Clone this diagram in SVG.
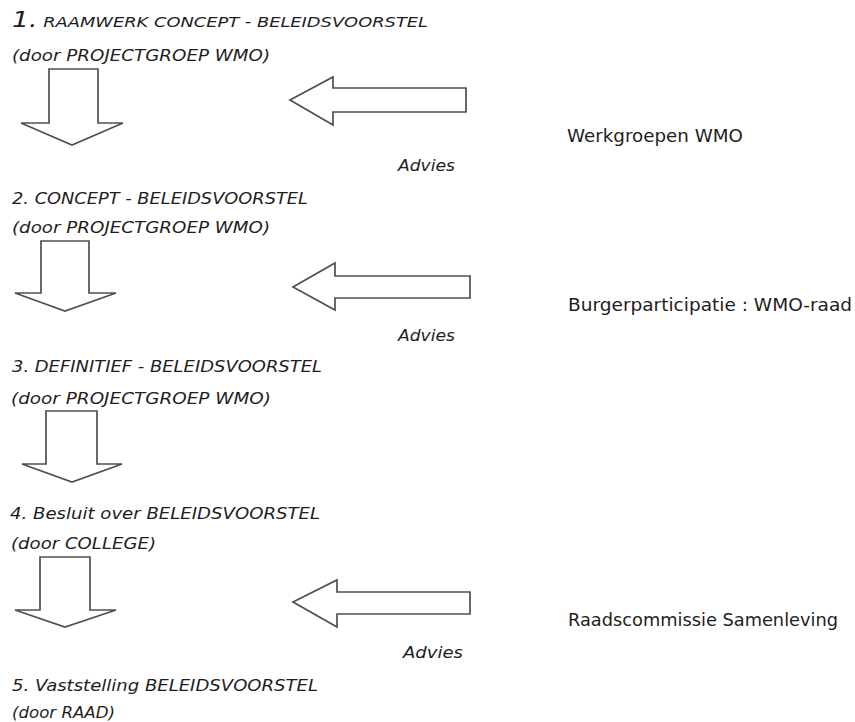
<svg xmlns="http://www.w3.org/2000/svg" width="855" height="722" viewBox="0 0 855 722">
<style>
.bg{fill:#ffffff}
.t{font-family:"DejaVu Sans","Liberation Sans",sans-serif;font-style:italic;font-size:16px;fill:#1e1e1e}
.r{font-family:"DejaVu Sans","Liberation Sans",sans-serif;font-size:17px;fill:#1e1e1e}
.arr{fill:#ffffff;stroke:#505050;stroke-width:1.7;stroke-linejoin:miter}
</style>
<rect class="bg" x="0" y="0" width="855" height="722"/>
<g id="step1">
<text class="t" x="12" y="27" textLength="416" lengthAdjust="spacingAndGlyphs"><tspan font-size="21">1.</tspan><tspan font-size="14"> RAAMWERK CONCEPT - BELEIDSVOORSTEL</tspan></text>
<text class="t" x="12" y="61" textLength="258" lengthAdjust="spacingAndGlyphs">(door PROJECTGROEP WMO)</text>
</g>
<g id="step2">
<text class="t" x="12" y="204" textLength="296" lengthAdjust="spacingAndGlyphs">2. CONCEPT - BELEIDSVOORSTEL</text>
<text class="t" x="12" y="233" textLength="258" lengthAdjust="spacingAndGlyphs">(door PROJECTGROEP WMO)</text>
</g>
<g id="step3">
<text class="t" x="12" y="372" textLength="310" lengthAdjust="spacingAndGlyphs">3. DEFINITIEF - BELEIDSVOORSTEL</text>
<text class="t" x="11" y="404" textLength="260" lengthAdjust="spacingAndGlyphs">(door PROJECTGROEP WMO)</text>
</g>
<g id="step4">
<text class="t" x="10" y="519" textLength="310" lengthAdjust="spacingAndGlyphs">4. Besluit over BELEIDSVOORSTEL</text>
<text class="t" x="11" y="549" textLength="145" lengthAdjust="spacingAndGlyphs">(door COLLEGE)</text>
</g>
<g id="step5">
<text class="t" x="12" y="691" textLength="306" lengthAdjust="spacingAndGlyphs">5. Vaststelling BELEIDSVOORSTEL</text>
<text class="t" x="12" y="718" textLength="103" lengthAdjust="spacingAndGlyphs">(door RAAD)</text>
</g>
<g id="werkgroepen">
<text class="r" x="567" y="142" textLength="176" lengthAdjust="spacingAndGlyphs">Werkgroepen WMO</text>
</g>
<g id="burgerparticipatie">
<text class="r" x="568" y="311" textLength="284" lengthAdjust="spacingAndGlyphs">Burgerparticipatie : WMO-raad</text>
</g>
<g id="raadscommissie">
<text class="r" x="568" y="626" textLength="270" lengthAdjust="spacingAndGlyphs">Raadscommissie Samenleving</text>
</g>
<g id="connectors">
<polygon class="arr" points="49,69 98,69 98,123 123,123 72,145 21,123 49,123"/>
<polygon class="arr" points="41,241 89,241 89,293 116,293 65,311 15,293 41,293"/>
<polygon class="arr" points="46,411 97,411 97,464 122,464 72,482 22,464 46,464"/>
<polygon class="arr" points="40,557 90,557 90,610 116,610 65,627 15,610 40,610"/>
<polygon class="arr" points="290,100 333,77 333,88 466,88 466,112 333,112 333,125"/>
<polygon class="arr" points="293,287 335,263 335,276 470,276 470,298 335,298 335,310"/>
<polygon class="arr" points="293,602 337,580 337,592 470,592 470,614 337,614 337,627"/>
<text class="t" x="398" y="171" textLength="57" lengthAdjust="spacingAndGlyphs">Advies</text>
<text class="t" x="398" y="341" textLength="57" lengthAdjust="spacingAndGlyphs">Advies</text>
<text class="t" x="403" y="658" textLength="60" lengthAdjust="spacingAndGlyphs">Advies</text>
</g>
</svg>
